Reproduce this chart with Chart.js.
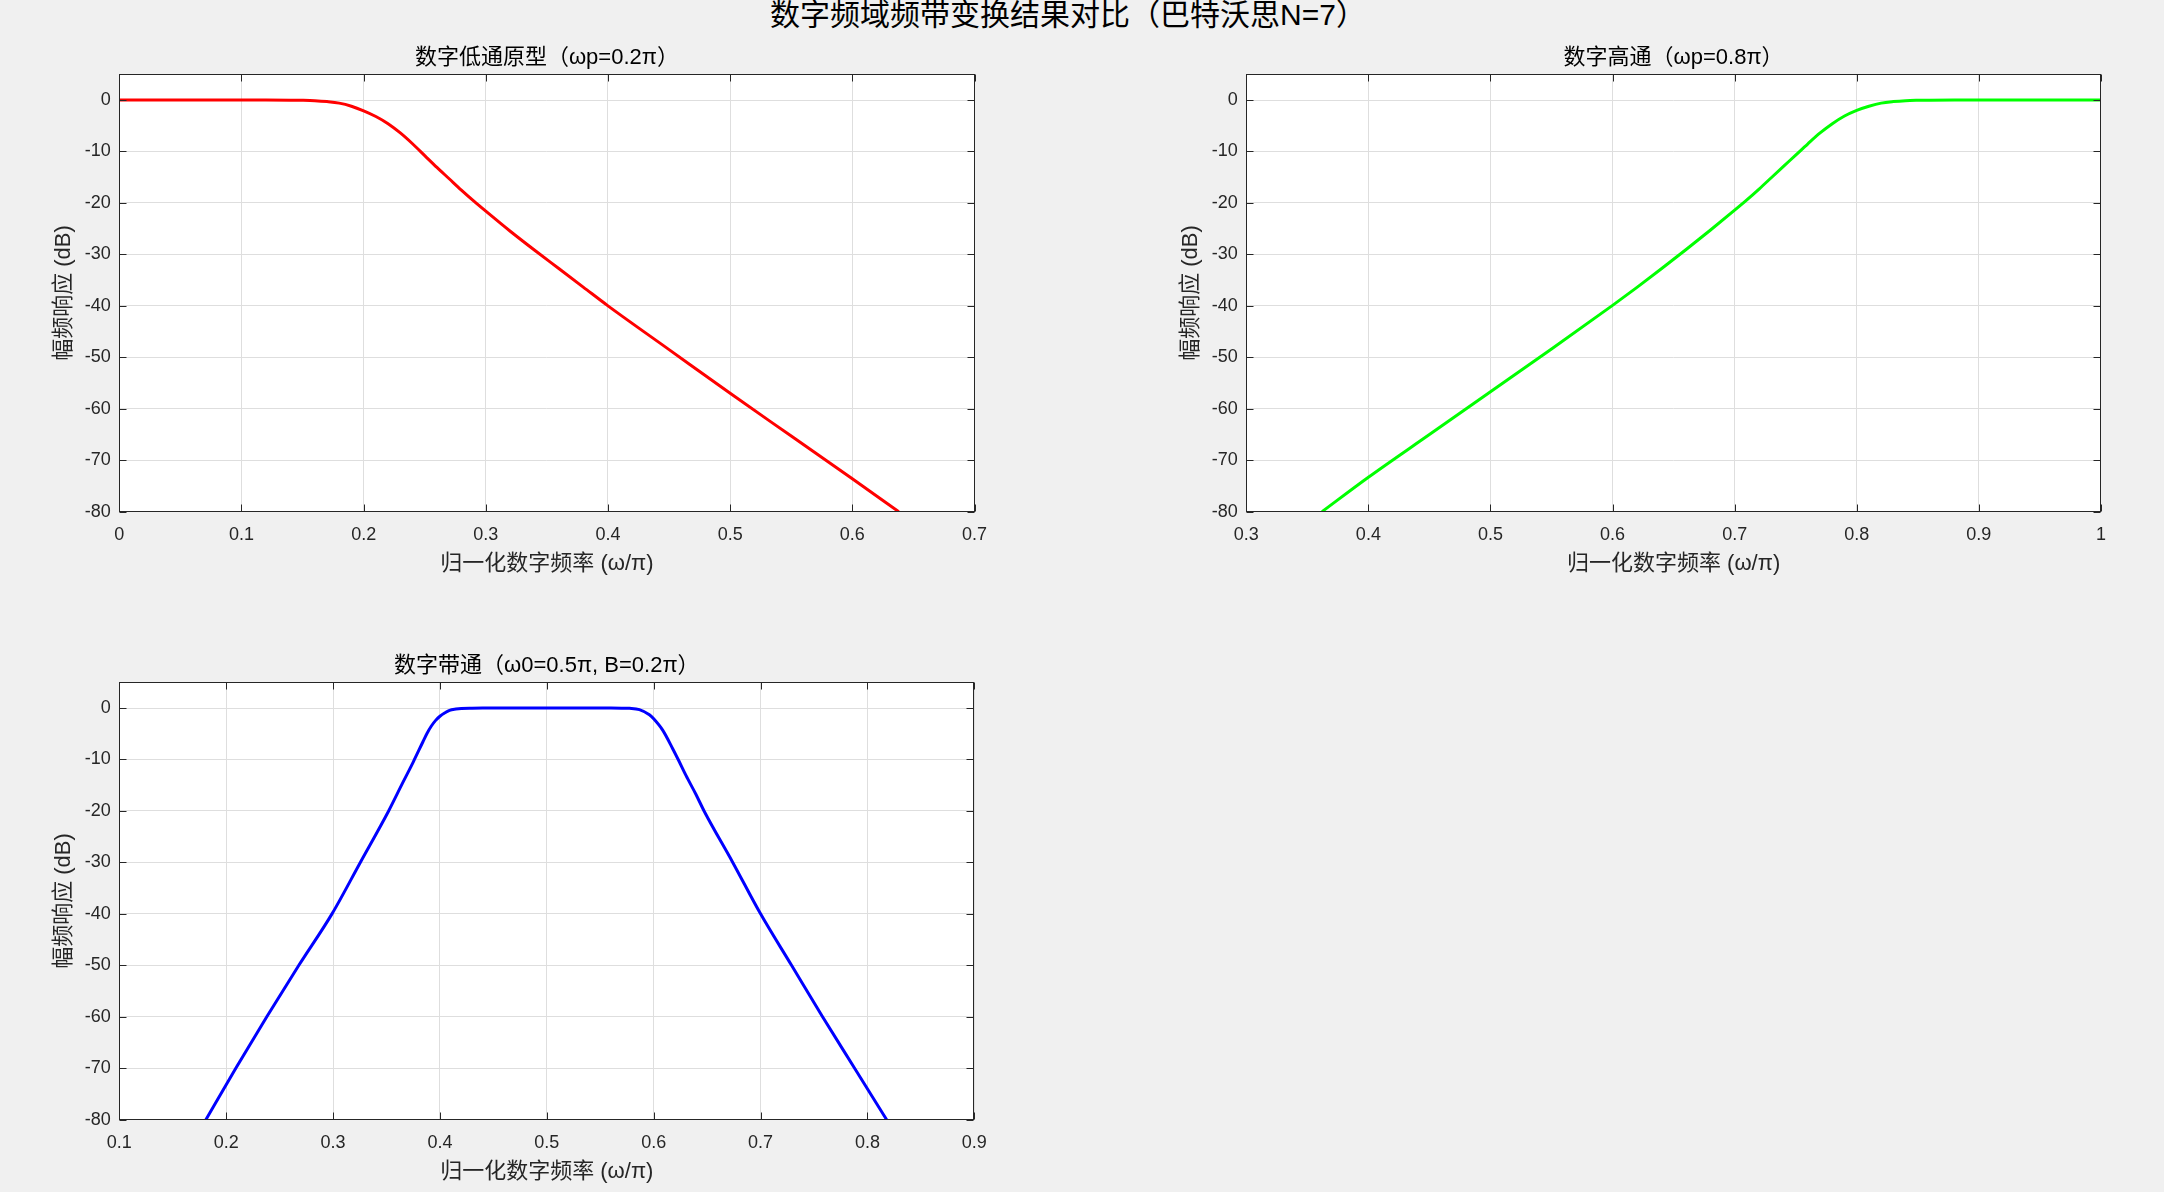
<!DOCTYPE html>
<html lang="zh-CN">
<head>
<meta charset="utf-8">
<title>数字频域频带变换结果对比</title>
<script src="https://cdn.jsdelivr.net/npm/chart.js@4.4.1/dist/chart.umd.min.js"></script>
<style>
    html, body { margin: 0; padding: 0; background: #f0f0f0; }
    body { width: 2164px; height: 1192px; position: relative; overflow: hidden; }
    #mainTitle {
        position: absolute; left: 0; top: 0; width: 2136px;
        text-align: center; color: #000;
        font: 30px/30px "Liberation Sans", "Noto Sans CJK SC", sans-serif;
    }
    canvas { position: absolute; }
</style>
</head>
<body>
<div id="mainTitle">数字频域频带变换结果对比（巴特沃思N=7）</div>
<canvas id="lowpassChart" width="1000" height="552" style="left:0px;top:40px;width:1000px;height:552px"></canvas>
<canvas id="highpassChart" width="1011" height="552" style="left:1127px;top:40px;width:1011px;height:552px"></canvas>
<canvas id="bandpassChart" width="1000" height="552" style="left:0px;top:648px;width:1000px;height:552px"></canvas>

<script>
// 归一化频率 (ω/π) 与幅频响应 (dB)
const lpFreq = [0, 0.05, 0.1, 0.12, 0.14, 0.15, 0.16, 0.17, 0.18, 0.19, 0.2, 0.21, 0.22, 0.23, 0.24, 0.25,
    0.26, 0.27, 0.28, 0.29, 0.3, 0.32, 0.34, 0.36, 0.38, 0.4, 0.45, 0.5, 0.55, 0.6, 0.638];
const lpMag = [0, 0, 0, -0.01, -0.03, -0.05, -0.12, -0.3, -0.6, -1.2, -2.1, -3.2, -4.6, -6.4, -8.5, -10.8,
    -13.1, -15.3, -17.5, -19.6, -21.6, -25.5, -29.2, -32.8, -36.4, -40.0, -48.5, -57.0, -65.3, -73.6, -80];

const hpFreq = [0.362, 0.4, 0.45, 0.5, 0.55, 0.6, 0.62, 0.64, 0.66, 0.68, 0.7, 0.71, 0.72, 0.73, 0.74, 0.75,
    0.76, 0.77, 0.78, 0.79, 0.8, 0.81, 0.82, 0.83, 0.84, 0.85, 0.86, 0.88, 0.9, 0.95, 1.0];
const hpMag = [-80, -73.3, -65.0, -56.7, -48.4, -39.9, -36.4, -32.8, -29.1, -25.3, -21.4, -19.4, -17.3, -15.1, -12.9, -10.7,
    -8.5, -6.4, -4.6, -3.1, -2.0, -1.2, -0.6, -0.3, -0.12, -0.05, -0.02, 0, 0, 0, 0];

const bpFreq = [0.181, 0.209, 0.238, 0.268, 0.299, 0.3255, 0.352, 0.365, 0.375, 0.384, 0.388, 0.392, 0.396, 0.4,
    0.405, 0.409, 0.415, 0.42, 0.43, 0.44, 0.5, 0.56, 0.57, 0.5773, 0.5866, 0.596, 0.6, 0.6084, 0.6178, 0.6234,
    0.6302, 0.6396, 0.6474, 0.674, 0.7, 0.729, 0.758, 0.788, 0.818];
const bpMag = [-80, -70, -60, -50, -40, -30, -20, -14.6, -10.5, -6.6, -4.9, -3.5, -2.4, -1.6,
    -0.9, -0.45, -0.2, -0.08, -0.02, 0, 0, 0, -0.02, -0.06, -0.3, -1.3, -2.1, -4.3, -7.9, -10.2,
    -13.1, -16.8, -20.1, -30, -40, -50, -60, -70, -80];

const lpTicks = [0, 0.1, 0.2, 0.3, 0.4, 0.5, 0.6, 0.7];
const hpTicks = [0.3, 0.4, 0.5, 0.6, 0.7, 0.8, 0.9, 1];
const bpTicks = [0.1, 0.2, 0.3, 0.4, 0.5, 0.6, 0.7, 0.8, 0.9];
const dbTicks = [-80, -70, -60, -50, -40, -30, -20, -10, 0];

const FONT = '"Liberation Sans", "Noto Sans CJK SC", sans-serif';
const AXIS_COLOR = '#262626';

// 白色绘图区
const plotBg = {
    id: 'plotBg',
    beforeDraw(chart) {
        const { ctx, chartArea: a } = chart;
        ctx.save();
        ctx.fillStyle = '#ffffff';
        ctx.fillRect(a.left, a.top, a.width, a.height);
        ctx.restore();
    }
};

// MATLAB 风格的外框和朝内的刻度线
const axesBox = {
    id: 'axesBox',
    afterDatasetsDraw(chart) {
        const { ctx, chartArea: a, scales } = chart;
        const len = 7;
        const L = Math.round(a.left) + 0.5, R = Math.round(a.right) - 0.5;
        const T = Math.round(a.top) + 0.5, B = Math.round(a.bottom) - 0.5;
        ctx.save();
        ctx.strokeStyle = AXIS_COLOR;
        ctx.lineWidth = 1;
        ctx.beginPath();
        scales.x.ticks.forEach(t => {
            const px = Math.round(scales.x.getPixelForValue(t.value)) + 0.5;
            ctx.moveTo(px, B); ctx.lineTo(px, B - len);
            ctx.moveTo(px, T); ctx.lineTo(px, T + len);
        });
        scales.y.ticks.forEach(t => {
            const py = Math.round(scales.y.getPixelForValue(t.value)) + 0.5;
            ctx.moveTo(L, py); ctx.lineTo(L + len, py);
            ctx.moveTo(R, py); ctx.lineTo(R - len, py);
        });
        ctx.stroke();
        ctx.strokeRect(L, T, R - L, B - T);
        ctx.restore();
    }
};

function createResponseChart(canvasId, title, freq, mag, color, xMin, xMax, xTicks, rightPad) {
    const ctx = document.getElementById(canvasId);
    if (!ctx) return;

    const points = freq.map((f, i) => ({ x: f, y: mag[i] }));

    new Chart(ctx, {
        type: 'line',
        data: {
            datasets: [{
                data: points,
                borderColor: color,
                borderWidth: 3,
                pointRadius: 0,
                fill: false,
                cubicInterpolationMode: 'monotone'
            }]
        },
        plugins: [plotBg, axesBox],
        options: {
            responsive: false,
            animation: false,
            events: [],
            layout: { padding: { left: 0, right: rightPad, top: 0, bottom: 0 } },
            plugins: {
                legend: { display: false },
                tooltip: { enabled: false },
                title: {
                    display: true,
                    text: title,
                    fullSize: false,
                    color: '#000',
                    font: { family: FONT, size: 22, weight: 'normal', lineHeight: 1.2 },
                    padding: { top: 5.1, bottom: 2.8 }
                }
            },
            scales: {
                x: {
                    type: 'linear',
                    min: xMin,
                    max: xMax,
                    afterBuildTicks: scale => { scale.ticks = xTicks.map(v => ({ value: v })); },
                    afterFit: scale => { scale.height = 80.3; },
                    grid: { color: '#dedede', lineWidth: 1, drawTicks: false },
                    border: { display: false },
                    ticks: {
                        color: AXIS_COLOR,
                        padding: 12.7,
                        maxRotation: 0,
                        font: { family: FONT, size: 18 },
                        callback: v => String(v)
                    },
                    title: {
                        display: true,
                        text: '归一化数字频率 (ω/π)',
                        color: AXIS_COLOR,
                        font: { family: FONT, size: 22, lineHeight: 1.2 },
                        padding: { top: 0, bottom: 15.1 }
                    }
                },
                y: {
                    type: 'linear',
                    min: -80,
                    max: 5,
                    afterBuildTicks: scale => { scale.ticks = dbTicks.map(v => ({ value: v })); },
                    afterFit: scale => { scale.width = 119.3; },
                    grid: { color: '#dedede', lineWidth: 1, drawTicks: false },
                    border: { display: false },
                    ticks: {
                        color: AXIS_COLOR,
                        padding: 8.5,
                        font: { family: FONT, size: 18 },
                        callback: v => String(v)
                    },
                    title: {
                        display: true,
                        text: '幅频响应 (dB)',
                        color: AXIS_COLOR,
                        font: { family: FONT, size: 22, lineHeight: 1.2 },
                        padding: { top: 51.1, bottom: 0 }
                    }
                }
            }
        }
    });
}

window.addEventListener('DOMContentLoaded', () => {
    createResponseChart('lowpassChart', '数字低通原型（ωp=0.2π）', lpFreq, lpMag, '#ff0000', 0, 0.7, lpTicks, 25.5);
    createResponseChart('highpassChart', '数字高通（ωp=0.8π）', hpFreq, hpMag, '#00ff00', 0.3, 1, hpTicks, 37.1);
    createResponseChart('bandpassChart', '数字带通（ω0=0.5π, B=0.2π）', bpFreq, bpMag, '#0000ff', 0.1, 0.9, bpTicks, 25.7);
});
</script>
</body>
</html>
